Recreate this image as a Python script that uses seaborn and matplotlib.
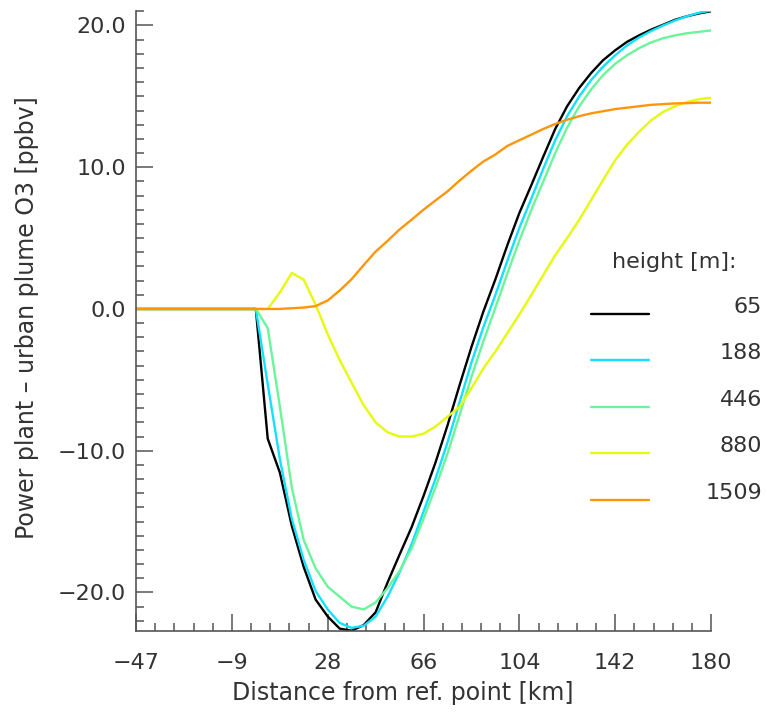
import numpy as np
import pandas as pd
import matplotlib
matplotlib.use("Agg")
import matplotlib.pyplot as plt
from matplotlib.lines import Line2D
from matplotlib.ticker import FixedLocator
import seaborn as sns

# ---------------- data ----------------
distance = [-47.0, -42.3, -37.5, -32.8, -28.1, -23.4, -18.6, -13.9, -9.2, -4.4,
            0.3, 5.0, 9.8, 14.5, 19.2, 23.9, 28.7, 33.4, 38.1, 42.9,
            47.6, 52.3, 57.0, 61.8, 66.5, 71.2, 76.0, 80.7, 85.4, 90.1,
            94.9, 99.6, 104.3, 109.1, 113.8, 118.5, 123.2, 128.0, 132.7, 137.4,
            142.2, 146.9, 151.6, 156.3, 161.1, 165.8, 170.5, 175.3, 180.0]

zeros10 = [0.0] * 10

o3_65 = zeros10 + [0.0, -9.15, -11.55, -15.3, -18.2, -20.5, -21.7, -22.55, -22.7, -22.3,
                   -21.4, -19.3, -17.35, -15.4, -13.2, -10.85, -8.2, -5.4, -2.7, -0.2,
                   2.1, 4.5, 6.75, 8.75, 10.75, 12.7, 14.3, 15.6, 16.65, 17.55,
                   18.25, 18.85, 19.3, 19.7, 20.05, 20.4, 20.65, 20.85, 21.0]
o3_188 = zeros10 + [0.0, -5.3, -10.6, -14.8, -17.7, -19.9, -21.2, -22.15, -22.5, -22.35,
                    -21.7, -20.3, -18.6, -16.6, -14.3, -12.0, -9.4, -6.6, -3.8, -1.3,
                    1.0, 3.4, 5.7, 7.8, 9.9, 11.9, 13.6, 15.0, 16.15, 17.1,
                    17.9, 18.6, 19.15, 19.6, 20.0, 20.35, 20.65, 20.9, 21.05]
o3_446 = zeros10 + [0.0, -1.35, -6.9, -12.6, -16.3, -18.3, -19.6, -20.3, -21.0, -21.2,
                    -20.7, -19.7, -18.5, -16.9, -14.8, -12.6, -10.2, -7.5, -4.8, -2.3,
                    0.1, 2.5, 4.8, 7.0, 9.0, 11.0, 12.8, 14.3, 15.5, 16.5,
                    17.3, 17.9, 18.4, 18.8, 19.1, 19.3, 19.45, 19.55, 19.65]
o3_880 = zeros10 + [0.0, 0.0, 1.17, 2.54, 2.07, 0.3, -1.8, -3.6, -5.2, -6.8,
                    -8.0, -8.7, -9.0, -9.0, -8.8, -8.3, -7.6, -6.9, -5.6, -4.2,
                    -3.0, -1.7, -0.4, 1.0, 2.4, 3.8, 5.0, 6.3, 7.7, 9.1,
                    10.5, 11.6, 12.5, 13.3, 13.9, 14.3, 14.6, 14.8, 14.9]
o3_1509 = zeros10 + [0.0, 0.0, 0.0, 0.05, 0.1, 0.2, 0.6, 1.3, 2.1, 3.1,
                     4.05, 4.8, 5.6, 6.3, 7.0, 7.65, 8.3, 9.05, 9.75, 10.4,
                     10.9, 11.5, 11.9, 12.3, 12.7, 13.05, 13.35, 13.6, 13.8, 13.95,
                     14.1, 14.2, 14.3, 14.4, 14.45, 14.5, 14.52, 14.55, 14.55]

heights = ["65", "188", "446", "880", "1509"]
series = [o3_65, o3_188, o3_446, o3_880, o3_1509]
colors = ["#000000", "#12e1ff", "#6af59a", "#e6fa0a", "#ff960a"]

xtick_labels = ["\u221247", "\u22129", "28", "66", "104", "142", "180"]
ytick_values = [-20.0, -10.0, 0.0, 10.0, 20.0]
ytick_labels = ["\u221220.0", "\u221210.0", "0.0", "10.0", "20.0"]

x_min, x_max = -47.0, 180.0
y_min, y_max = -22.72, 21.02

df = pd.concat(
    [pd.DataFrame({"distance": distance, "o3": s, "height": h}) for h, s in zip(heights, series)],
    ignore_index=True,
)

# ---------------- style ----------------
sns.set_style("white")
plt.rcParams["font.family"] = ["DejaVu Sans"]
text_color = "#333333"
axis_color = "#555555"

W, H = 767, 717
fig = plt.figure(figsize=(W / 100, H / 100), dpi=100)
ax = fig.add_axes([136 / W, 1 - 631 / H, 575 / W, 620 / H])

sns.lineplot(data=df, x="distance", y="o3", hue="height", hue_order=heights,
             palette=dict(zip(heights, colors)), legend=False, estimator=None,
             sort=False, linewidth=1.7, ax=ax)

ax.set_xlim(x_min, x_max)
ax.set_ylim(y_min, y_max)
ax.set_xlabel("")
ax.set_ylabel("")

for side in ["top", "right"]:
    ax.spines[side].set_visible(False)
for side in ["left", "bottom"]:
    ax.spines[side].set_color(axis_color)
    ax.spines[side].set_linewidth(1.2)

xmaj = np.linspace(x_min, x_max, 7)
ax.set_xticks(xmaj)
ax.set_xticklabels(xtick_labels)
ax.xaxis.set_minor_locator(FixedLocator(np.linspace(x_min, x_max, 31)))
ax.set_yticks(ytick_values)
ax.set_yticklabels(ytick_labels)
ax.yaxis.set_minor_locator(FixedLocator(np.arange(-22, 22, 1.0)))

ax.tick_params(which="both", bottom=True, left=True, top=False, right=False)
ax.tick_params(which="major", direction="in", length=12, width=1.1, color=axis_color,
               labelsize=16, labelcolor=text_color)
ax.tick_params(which="minor", direction="in", length=6, width=1.1, color=axis_color)
ax.tick_params(axis="x", which="major", pad=16)
ax.tick_params(axis="y", which="major", pad=7)
ax.grid(False)

# axis titles
fig.text(27 / W, 1 - 318 / H, "Power plant \u2013 urban plume O3 [ppbv]", rotation=90,
         ha="center", va="center", fontsize=17, color=text_color)
fig.text(403 / W, 1 - 693 / H, "Distance from ref. point [km]",
         ha="center", va="center", fontsize=17, color=text_color)

# legend
fig.text(674 / W, 1 - 262 / H, "height [m]:", ha="center", va="center",
         fontsize=16, color=text_color)
for i, (h, c) in enumerate(zip(heights, colors)):
    yl = 314 + 46.4 * i
    fig.add_artist(Line2D([591 / W, 649 / W], [1 - yl / H, 1 - yl / H],
                          transform=fig.transFigure, color=c, linewidth=1.7))
    fig.text(762 / W, 1 - (yl - 7) / H, h, ha="right", va="center",
             fontsize=16, color=text_color)

fig.savefig("out.png", dpi=100)
